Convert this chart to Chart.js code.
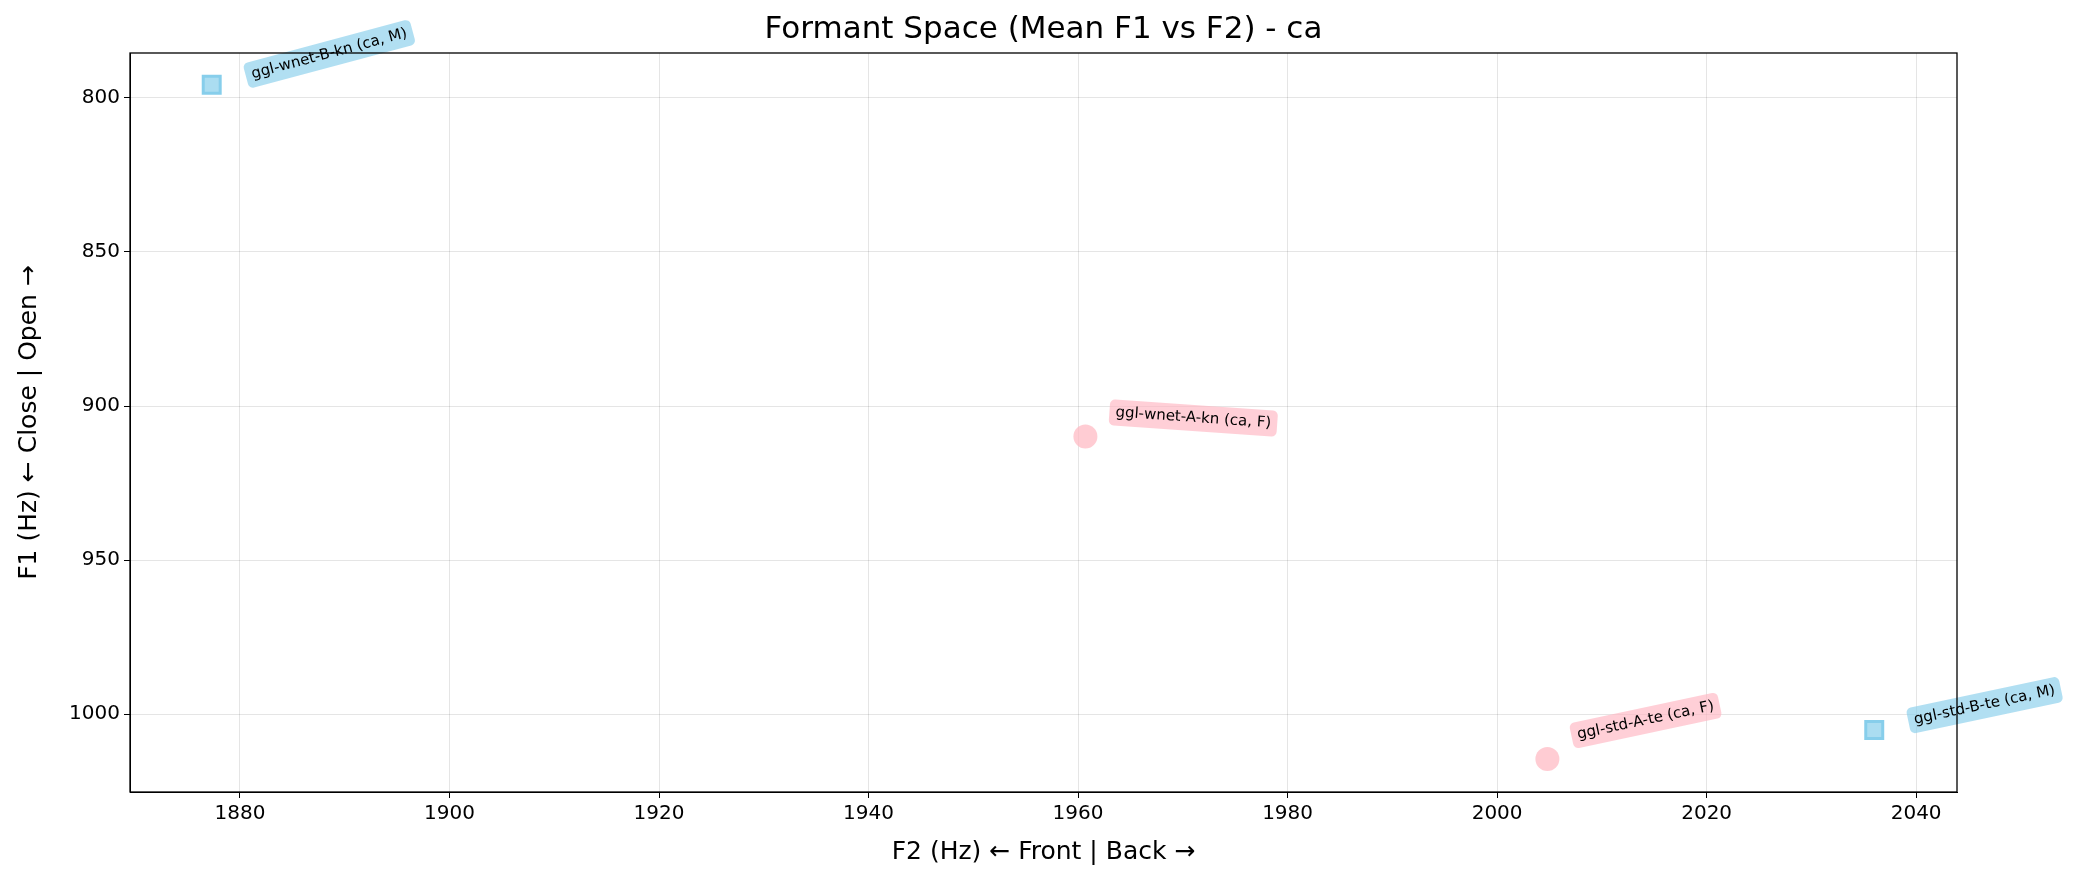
<!DOCTYPE html>
<html><head><meta charset="utf-8">
<script src="https://cdn.jsdelivr.net/npm/chart.js@4"></script>
<style>html,body{margin:0;padding:0;background:#fff}#c{display:block}</style>
</head><body>
<canvas id="c" width="2073" height="883"></canvas>
<script>
const labels = ["ggl-wnet-B-kn (ca, M)", "ggl-wnet-A-kn (ca, F)", "ggl-std-A-te (ca, F)", "ggl-std-B-te (ca, M)"];
const f2Values = [1877.3, 1960.7, 2004.8, 2036.0];
const f1Values = [795.7, 909.9, 1014.6, 1005.2];
const genders = ["M", "F", "F", "M"];
const labelAngles = [-15, 4, -12, -12];
const xTicks = [1880, 1900, 1920, 1940, 1960, 1980, 2000, 2020, 2040];
const yTicks = [800, 850, 900, 950, 1000];

const blueFill = "rgba(135,206,235,0.7)", blueEdge = "rgba(135,206,235,1)";
const pinkFill = "rgba(255,182,193,0.7)";

const pts = f2Values.map((x, i) => ({x, y: f1Values[i]}));
const labelPlugin = {
  id: "lbl",
  afterDatasetsDraw(chart) {
    const ctx = chart.ctx, xs = chart.scales.x, ys = chart.scales.y;
    ctx.save();
    ctx.font = "15px 'DejaVu Sans'";
    pts.forEach((p, i) => {
      const px = xs.getPixelForValue(p.x), py = ys.getPixelForValue(p.y);
      const isM = genders[i] === "M";
      ctx.save();
      ctx.translate(px + (isM ? 40 : 30), py - (isM ? 10 : 24));
      ctx.rotate(labelAngles[i] * Math.PI / 180);
      const w = ctx.measureText(labels[i]).width;
      ctx.fillStyle = isM ? "rgba(135,206,235,0.65)" : "rgba(255,182,193,0.65)";
      ctx.beginPath();
      ctx.roundRect(-6, -13, w + 12, 26, 5);
      ctx.fill();
      ctx.fillStyle = "#000"; ctx.textBaseline = "middle";
      ctx.fillText(labels[i], 0, 0);
      ctx.restore();
    });
    ctx.font = "31px 'DejaVu Sans'"; ctx.fillStyle = "#000"; ctx.textAlign = "center"; ctx.textBaseline = "bottom";
    ctx.fillText("Formant Space (Mean F1 vs F2) - ca", (chart.chartArea.left + chart.chartArea.right) / 2, chart.chartArea.top - 8);
    ctx.strokeStyle = "#000"; ctx.lineWidth = 1.3;
    const a = chart.chartArea;
    ctx.strokeRect(a.left, a.top, a.right - a.left, a.bottom - a.top);
    ctx.restore();
  }
};

new Chart(document.getElementById("c"), {
  type: "scatter",
  data: { datasets: [{
    data: pts,
    pointStyle: genders.map(g => g === "M" ? "rect" : "circle"),
    pointRadius: genders.map(g => g === "M" ? 12 : 12),
    backgroundColor: genders.map(g => g === "M" ? blueFill : pinkFill),
    borderColor: genders.map(g => g === "M" ? blueEdge : pinkFill),
    borderWidth: genders.map(g => g === "M" ? 3 : 0),
  }]},
  options: {
    responsive: false, animation: false,
    layout: { padding: { top: 53, right: 116, left: 10, bottom: 12 } },
    plugins: { legend: { display: false }, tooltip: { enabled: false } },
    scales: {
      x: { type: "linear", min: 1869.5, max: 2043.9,
        afterBuildTicks: s => { s.ticks = xTicks.map(v => ({value: v})); },
        afterFit: s => { s.height = 79; },
        grid: { color: "rgba(0,0,0,0.1)", tickColor: "#000", tickLength: 6 },
        border: { color: "#000" },
        ticks: { color: "#000", font: { size: 20, family: "DejaVu Sans" }, padding: 4, callback: v => String(v) },
        title: { display: true, text: "F2 (Hz) ← Front | Back →", color: "#000", font: { size: 25, family: "DejaVu Sans" }, padding: { top: 2 } } },
      y: { type: "linear", reverse: true, min: 785.4, max: 1025.3,
        afterBuildTicks: s => { s.ticks = yTicks.map(v => ({value: v})); },
        afterFit: s => { s.width = 120; },
        grid: { color: "rgba(0,0,0,0.1)", tickColor: "#000", tickLength: 6 },
        border: { color: "#000" },
        ticks: { color: "#000", font: { size: 20, family: "DejaVu Sans" }, padding: 4, callback: v => String(v) },
        title: { display: true, text: "F1 (Hz) ← Close | Open →", color: "#000", font: { size: 25, family: "DejaVu Sans" }, padding: { bottom: 4 } } }
    }
  },
  plugins: [labelPlugin]
});
</script>
</body></html>
